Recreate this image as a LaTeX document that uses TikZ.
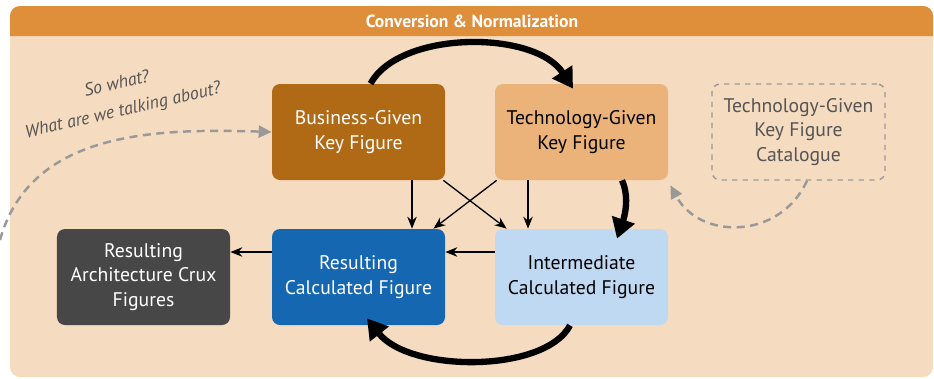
\documentclass[tikz,border=0pt]{standalone}
\usepackage{fontspec}
\setmainfont{PT Sans}
\usetikzlibrary{arrows.meta}

\definecolor{titleorange}{HTML}{DF8E3A}
\definecolor{panelpeach}{HTML}{F5DBBF}
\definecolor{bizbrown}{HTML}{B06A16}
\definecolor{techtan}{HTML}{EBB27A}
\definecolor{resultblue}{HTML}{1467B0}
\definecolor{interblue}{HTML}{BFD9F3}
\definecolor{cruxgray}{HTML}{474747}
\definecolor{hintgray}{HTML}{999999}
\definecolor{notegray}{HTML}{555555}

\tikzset{
    figbox/.style={rounded corners=1.6mm, minimum width=34.6mm, minimum height=19.2mm,
        align=center, inner sep=0pt, font=\fontsize{11.2}{14}\selectfont},
    flow/.style={-{Stealth[length=2.4mm,width=1.9mm]}, line width=0.75pt, black},
    bigturn/.style={-{Triangle[length=4mm,width=4.6mm]}, line width=3.6pt, black},
    hint/.style={-{Triangle[length=2.6mm,width=2.4mm]}, line width=1.4pt, hintgray,
        dash pattern=on 1.6mm off 1.1mm}
}

\begin{document}
\begin{tikzpicture}[x=0.2mm, y=0.2mm]
    % Definitions
    \useasboundingbox (0,0) rectangle (934,378);
    \def \shiftv{10.7mm}
    \def \shifth{5mm}
    %%%
    %%% Panel
    %%%
    \fill[panelpeach, rounded corners=2mm] (10,1) rectangle (933,372);
    \fill[titleorange] (10,342) [rounded corners=2mm] -- (10,372) -- (933,372) [sharp corners] -- (933,342) -- cycle;
    \node[white, font=\bfseries\fontsize{10}{11}\selectfont] (title) at (472,357) {Conversion \& Normalization};
    %%%
    %%% Figure boxes
    %%%
    \node[figbox, fill=bizbrown, text=white] (biz) at (358.5,246) {Business-Given\\Key Figure};
    \node[figbox, fill=techtan] (tech) at (581.5,246) {Technology-Given\\Key Figure};
    \node[figbox, draw=hintgray, dashed, line width=0.8pt, text=notegray] (cat) at (798.5,246) {Technology-Given\\Key Figure\\Catalogue};
    \node[figbox, fill=cruxgray, text=white] (crux) at (143.5,101) {Resulting\\Architecture Crux\\Figures};
    \node[figbox, fill=resultblue, text=white] (result) at (358.5,101) {Resulting\\Calculated Figure};
    \node[figbox, fill=interblue] (inter) at (581.5,101) {Intermediate\\Calculated Figure};
    % Question note
    \node[rotate=13, align=center, text=notegray, font=\itshape\fontsize{10.2}{15.5}\selectfont] (note) at (120,280) {So what?\\What are we talking about?};
    %%%
    %%% Thin flows
    %%%
    \draw[flow] ([xshift=\shiftv]biz.south) -- ([xshift=\shiftv]result.north);
    \draw[flow] ([xshift=-\shiftv]tech.south) -- ([xshift=-\shiftv]inter.north);
    \draw[flow] ([xshift=-0.4mm]biz.south east) -- ([xshift=2.4mm]inter.north west);
    \draw[flow] ([xshift=0.4mm]tech.south west) -- ([xshift=-2.4mm]result.north east);
    \foreach \from/\to in {inter/result, result/crux}
    {
        \draw[flow] ([yshift=\shifth]\from.west) -- ([yshift=\shifth]\to.east);
    }
    %%%
    %%% Big turn
    %%%
    \draw[bigturn] ([xshift=2.4mm]biz.north) .. controls (400,348) and (535,348) .. ([xshift=-1.7mm,yshift=-1mm]tech.north);
    \draw[bigturn] ([xshift=8.1mm]tech.south) .. controls (630,180) and (624,160) .. ([xshift=7.1mm,yshift=-2mm]inter.north);
    \draw[bigturn] ([xshift=-2.3mm]inter.south) .. controls (545,5) and (410,5) .. ([xshift=1.7mm,yshift=1.4mm]result.south);
    %%%
    %%% Hints
    %%%
    \coordinate (edge) at (0,138);
    \draw[hint] (edge) .. controls (30,245) and (150,250) .. (biz.west);
    \draw[hint] ([xshift=1.7mm]cat.south) .. controls (780,138) and (700,138) .. ([xshift=0.4mm,yshift=-1mm]tech.south east);
\end{tikzpicture}
\end{document}
